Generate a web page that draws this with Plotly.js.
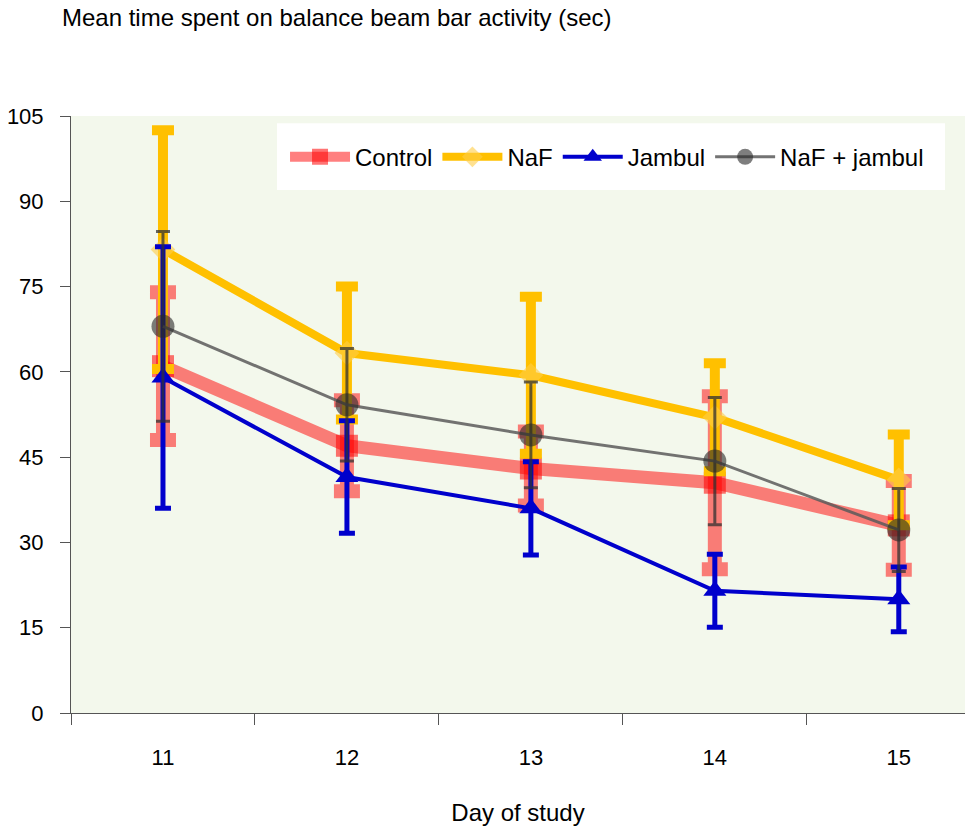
<!DOCTYPE html>
<html>
<head>
<meta charset="utf-8">
<script src="https://cdn.plot.ly/plotly-3.0.1.min.js"></script>
<style>html,body{margin:0;padding:0;background:#fff;}#chart{width:965px;height:827px;}</style>
</head>
<body>
<div id="chart"></div>
<script>
const days = ['11', '12', '13', '14', '15'];
const controlMean = [61, 47, 43, 40.5, 33];
const controlErr = [13, 8, 6.5, 15.2, 7.8];
const nafMean = [81.5, 63.3, 59.4, 52, 41];
const nafErr = [21, 11.7, 13.8, 9.5, 8];
const jambulMean = [59, 41.5, 36, 21.5, 20];
const jambulErr = [23, 9.9, 8.2, 6.4, 5.7];
const comboMean = [68, 54.2, 48.9, 44.3, 32.2];
const comboErr = [16.7, 9.9, 9.3, 11.2, 7.3];
const yTicks = [0, 15, 30, 45, 60, 75, 90, 105];

const FONT = 'Liberation Sans, Arial, sans-serif';

const traces = [
  {
    x: days, y: controlMean, name: 'Control', type: 'scatter', mode: 'lines+markers',
    line: {color: 'rgba(255,0,0,0.5)', width: 13},
    marker: {symbol: 'square', size: 22, color: 'rgba(255,0,0,0.55)'},
    error_y: {type: 'data', array: controlErr, visible: true, color: 'rgba(255,0,0,0.5)', thickness: 14, width: 13}
  },
  {
    x: days, y: nafMean, name: 'NaF', type: 'scatter', mode: 'lines+markers',
    line: {color: '#FFC000', width: 8},
    marker: {symbol: 'diamond', size: 19, color: 'rgba(255,205,70,0.6)'},
    error_y: {type: 'data', array: nafErr, visible: true, color: '#FFC000', thickness: 10, width: 11}
  },
  {
    x: days, y: jambulMean, name: 'Jambul', type: 'scatter', mode: 'lines+markers',
    line: {color: '#0000CC', width: 4},
    marker: {symbol: 'triangle-up', size: 20, color: '#0000CC'},
    error_y: {type: 'data', array: jambulErr, visible: true, color: '#0000CC', thickness: 5, width: 8}
  },
  {
    x: days, y: comboMean, name: 'NaF + jambul', type: 'scatter', mode: 'lines+markers',
    line: {color: 'rgba(90,90,90,0.85)', width: 3},
    marker: {symbol: 'circle', size: 23, color: 'rgba(40,40,40,0.6)'},
    error_y: {type: 'data', array: comboErr, visible: true, color: 'rgba(50,50,50,0.75)', thickness: 3, width: 7}
  }
];

const layout = {
  width: 965, height: 827,
  margin: {l: 71, r: 0, t: 116, b: 114},
  paper_bgcolor: '#ffffff',
  plot_bgcolor: '#f3f8ec',
  font: {family: FONT, size: 22, color: '#000'},
  title: {
    text: 'Mean time spent on balance beam bar activity (sec)',
    font: {family: FONT, size: 24, color: '#000'},
    xref: 'container', yref: 'container',
    x: 62 / 965, xanchor: 'left',
    y: 1 - 18 / 827, yanchor: 'middle'
  },
  xaxis: {
    type: 'category',
    range: [-0.5, 4.36],
    tickson: 'boundaries',
    ticks: 'outside', ticklen: 11, tickcolor: '#555', tickwidth: 1,
    showline: true, linecolor: '#555', linewidth: 1,
    showgrid: false, zeroline: false,
    tickfont: {family: FONT, size: 22, color: '#000'},
    ticklabelstandoff: 25,
    title: {text: 'Day of study', font: {family: FONT, size: 24, color: '#000'}, standoff: 34},
    automargin: false, fixedrange: true
  },
  yaxis: {
    range: [0, 105],
    tickvals: yTicks,
    ticktext: yTicks.map(String),
    ticks: 'outside', ticklen: 10, tickcolor: '#555', tickwidth: 1,
    showline: true, linecolor: '#555', linewidth: 1,
    showgrid: false, zeroline: false,
    tickfont: {family: FONT, size: 22, color: '#000'},
    ticklabelstandoff: 12,
    automargin: false, fixedrange: true
  },
  showlegend: true,
  legend: {
    orientation: 'h',
    x: 0.2394, xanchor: 'left',
    y: 0.931, yanchor: 'middle',
    bgcolor: 'rgba(0,0,0,0)',
    font: {family: FONT, size: 24, color: '#000'},
    itemwidth: 60
  },
  shapes: [
    {type: 'rect', xref: 'paper', yref: 'paper', x0: 0.2304, x1: 0.9776, y0: 0.876, y1: 0.988,
     fillcolor: '#ffffff', line: {width: 0}, layer: 'above'}
  ]
};

Plotly.newPlot('chart', traces, layout, {displayModeBar: false, staticPlot: true});
</script>
</body>
</html>
